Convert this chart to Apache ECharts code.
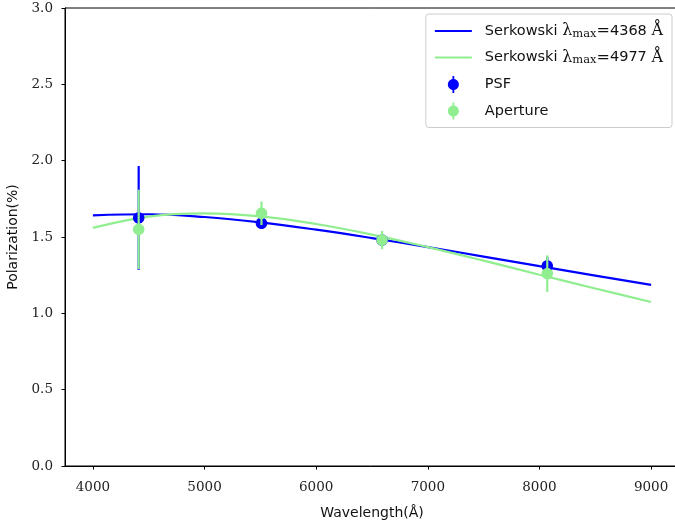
<!DOCTYPE html>
<html>
<head>
<meta charset="utf-8">
<script src="https://cdn.jsdelivr.net/npm/echarts@6/dist/echarts.min.js"></script>
<style>html,body{margin:0;padding:0;background:#fff;}#c{width:675px;height:526px;}</style>
</head>
<body>
<div id="c"></div>
<script>
// Observations
var wavelengths = [4410, 5510, 6590, 8070];
var psfPol = [1.625, 1.59, 1.48, 1.31];
var psfErr = [0.34, 0.03, 0.04, 0.06];
var aperturePol = [1.55, 1.655, 1.48, 1.26];
var apertureErr = [0.26, 0.077, 0.06, 0.12];
// Serkowski curves
var curveWave = [4000, 4500, 5000, 5500, 6000, 6500, 7000, 7500, 8000, 8500, 9000];
var serk4368 = [1.642, 1.649, 1.631, 1.596, 1.548, 1.493, 1.434, 1.372, 1.309, 1.247, 1.186];
var serk4977 = [1.560, 1.634, 1.655, 1.635, 1.585, 1.516, 1.434, 1.345, 1.253, 1.163, 1.074];
var xTicks = [4000, 5000, 6000, 7000, 8000, 9000];
var yTicks = [0, 0.5, 1.0, 1.5, 2.0, 2.5, 3.0];

var BLUE = '#0000ff', GREEN = '#90ee90';
function zip2(a, b) { return a.map(function (v, i) { return [v, b[i]]; }); }
function zip3(a, b, c) { return a.map(function (v, i) { return [v, b[i], c[i]]; }); }
// polygonal disc marker shape (style only)
function discPath(cx, cy, r, n) {
  var s = '';
  for (var k = 0; k < n; k++) {
    var a = 2 * Math.PI * k / n;
    s += (k === 0 ? 'M' : 'L') + (cx + r * Math.cos(a)).toFixed(3) + ',' + (cy + r * Math.sin(a)).toFixed(3);
  }
  return s + 'Z';
}
var discSymbol = 'path://' + discPath(10, 10, 10, 36);
function errRender(color) {
  return function (params, api) {
    var x = api.value(0), y = api.value(1), e = api.value(2);
    var t = api.coord([x, y + e]), b = api.coord([x, y - e]);
    return { type: 'rect', shape: { x: t[0] - 1.1, y: t[1], width: 2.2, height: b[1] - t[1] },
             style: { fill: color } };
  };
}
var labelNames = {
  'S4368': '{a|Serkowski }{m|λ}{s|max}{m|=}{a|4368 }{m|Å}',
  'S4977': '{a|Serkowski }{m|λ}{s|max}{m|=}{a|4977 }{m|Å}',
  'PSF': '{a|PSF}',
  'Aperture': '{a|Aperture}'
};
var errIcon = 'path://M4.6,0h1.8v17h-1.8z ' + discPath(5.5, 8.5, 5.5, 36);
var lineIcon = 'path://M0,0h37v2.2h-37z';

var chart = echarts.init(document.getElementById('c'), null, { renderer: 'canvas' });
chart.setOption({
  animation: false,
  backgroundColor: '#fff',
  grid: { left: 65, top: 8, width: 614, height: 458, containLabel: false, outerBoundsMode: 'none',
          show: true, borderColor: '#000', borderWidth: 1 },
  legend: {
    orient: 'vertical', right: 3, top: 14,
    padding: [9, 9, 8, 9],
    itemWidth: 37, itemHeight: 17, itemGap: 9.5,
    borderColor: '#cccccc', borderWidth: 1, borderRadius: 3,
    backgroundColor: 'rgba(255,255,255,0.8)',
    data: [
      { name: 'S4368', icon: lineIcon },
      { name: 'S4977', icon: lineIcon },
      { name: 'PSF', icon: errIcon },
      { name: 'Aperture', icon: errIcon }
    ],
    formatter: function (n) { return labelNames[n]; },
    textStyle: {
      padding: [0, 0, 0, 8],
      rich: {
        a: { fontFamily: 'DejaVu Sans', fontSize: 14.5, color: '#111', lineHeight: 18 },
        m: { fontFamily: 'DejaVu Serif', fontSize: 16, color: '#111', lineHeight: 18 },
        s: { fontFamily: 'DejaVu Serif', fontSize: 11.5, color: '#111', lineHeight: 11, verticalAlign: 'bottom' }
      }
    }
  },
  xAxis: {
    type: 'value', min: 3750, max: 9250,
    name: 'Wavelength(Å)', nameLocation: 'middle', nameGap: 40,
    nameTextStyle: { fontFamily: 'DejaVu Sans', fontSize: 14, color: '#111' },
    axisLine: { show: true, onZero: false, lineStyle: { color: '#000', width: 1 } },
    axisTick: { show: true, length: 3.5, customValues: xTicks, lineStyle: { color: '#000' } },
    axisLabel: { customValues: xTicks, margin: 14, fontFamily: 'DejaVu Serif', fontSize: 13.5, color: '#222',
                 formatter: function (v) { return String(v); } },
    splitLine: { show: false }
  },
  yAxis: {
    type: 'value', min: 0, max: 3, interval: 0.5,
    name: 'Polarization(%)', nameLocation: 'middle', nameGap: 43,
    nameTextStyle: { fontFamily: 'DejaVu Sans', fontSize: 14, color: '#111' },
    axisLine: { show: true, lineStyle: { color: '#000', width: 1 } },
    axisTick: { show: true, length: 3.5, lineStyle: { color: '#000' } },
    axisLabel: { margin: 12, fontFamily: 'DejaVu Serif', fontSize: 13.5, color: '#222',
                 formatter: function (v) { return v.toFixed(1); } },
    splitLine: { show: false }
  },
  series: [
    { name: 'S4368', type: 'line', data: zip2(curveWave, serk4368), smooth: 0.4, symbol: 'none',
      lineStyle: { color: BLUE, width: 2.2 }, itemStyle: { color: BLUE }, z: 2 },
    { name: 'S4977', type: 'line', data: zip2(curveWave, serk4977), smooth: 0.4, symbol: 'none',
      lineStyle: { color: GREEN, width: 2.2 }, itemStyle: { color: GREEN }, z: 3 },
    { name: 'PSF_err', type: 'custom', data: zip3(wavelengths, psfPol, psfErr), renderItem: errRender(BLUE),
      itemStyle: { color: BLUE }, z: 4, silent: true },
    { name: 'PSF', type: 'scatter', data: zip2(wavelengths, psfPol), symbol: discSymbol, symbolSize: 11.5,
      itemStyle: { color: BLUE, opacity: 1, borderWidth: 0 }, emphasis: { disabled: true }, z: 5 },
    { name: 'Aperture_err', type: 'custom', data: zip3(wavelengths, aperturePol, apertureErr), renderItem: errRender(GREEN),
      itemStyle: { color: GREEN }, z: 6, silent: true },
    { name: 'Aperture', type: 'scatter', data: zip2(wavelengths, aperturePol), symbol: discSymbol, symbolSize: 11.5,
      itemStyle: { color: GREEN, opacity: 1, borderWidth: 0 }, emphasis: { disabled: true }, z: 7 }
  ]
});
</script>
</body>
</html>
